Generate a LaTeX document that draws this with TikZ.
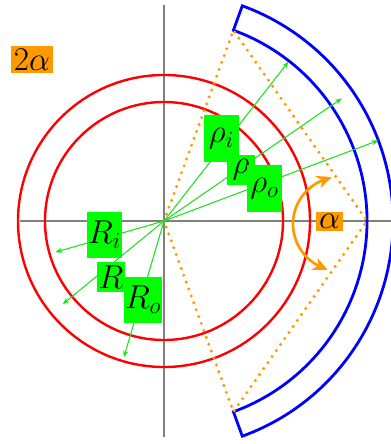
\documentclass[tikz,border=0pt]{standalone}
\usetikzlibrary{arrows.meta,bending}
\definecolor{boxgreen}{RGB}{0,255,0}
\definecolor{raygreen}{RGB}{30,225,30}
\definecolor{angorange}{RGB}{255,153,0}
\definecolor{axisgray}{RGB}{128,128,128}

\begin{document}
\begin{tikzpicture}[x=0.75pt,y=0.75pt,>=Stealth]
  \tikzset{axis/.style={axisgray,line width=1.5pt},
    ring/.style={red,line width=1.8pt},
    shell/.style={blue,line width=2.1pt},
    wedge/.style={angorange,line width=2.5pt,line cap=round,dash pattern=on 0pt off 5.5pt},
    ray/.style={raygreen,line width=0.8pt,-{Stealth[length=5pt,width=4pt]}},
    lbl/.style={fill=boxgreen,inner sep=1pt,minimum width=21pt,minimum height=22.5pt,font=\fontsize{27}{32}\selectfont},
    lblsub/.style={lbl,minimum width=26pt,minimum height=35pt},
    ang/.style={fill=angorange,inner sep=2pt,font=\fontsize{29}{34}\selectfont}}
  \useasboundingbox (-164,-223) rectangle (227,221);
  \coordinate (O) at (0,0);
  % axes
  \draw[axis] (-144,0) -- (227,0);
  \draw[axis] (0,216) -- (0,-216);
  % rings
  \draw[ring] (O) circle[radius=119];
  \draw[ring] (O) circle[radius=146];
  % shell sector
  \draw[shell] (70:203) arc[start angle=70,end angle=-70,radius=203]
    -- (-70:229) arc[start angle=-70,end angle=70,radius=229] -- cycle;
  \coordinate (T) at (70:203);
  \coordinate (V) at (203,0);
  \coordinate (B) at (-70:203);
  \draw[wedge] (O) -- (T) -- (V) -- (B) -- cycle;
  % angle arrow
  \coordinate (Ac) at (176,-3);
  \draw[angorange,line width=2pt,{Stealth[length=11pt,width=10pt,bend]}-{Stealth[length=11pt,width=10pt,bend]}]
    ([shift={(100:47)}]Ac) arc[start angle=100,end angle=255,radius=47];
  % radii
  \coordinate (ri) at (196:113);
  \coordinate (rm) at (219.4:131);
  \coordinate (ro) at (253.6:142);
  \coordinate (pi) at (52:202);
  \coordinate (pm) at (34.6:216);
  \coordinate (po) at (20.6:229);
  \foreach \e in {ri,rm,ro,pi,pm,po}
    \draw[ray] (O) -- (\e);
  % labels
  \node[lblsub] (lpi) at (57.5,82.5) {$\rho_i$};
  \node[lbl] (lpm) at (77,51) {$\rho$};
  \node[lblsub] (lpo) at (100.5,32.5) {$\rho_o$};
  \node[lblsub] (lri) at (-59.5,-14) {$R_i$};
  \node[lbl] (lrm) at (-53,-56) {$R$};
  \node[lblsub] (lro) at (-21,-79) {$R_o$};
  \node[ang] (la) at (165.5,-0.5) {$\alpha$};
  \node[ang] (l2a) at (-132,161.5) {$2\alpha$};
\end{tikzpicture}
\end{document}
